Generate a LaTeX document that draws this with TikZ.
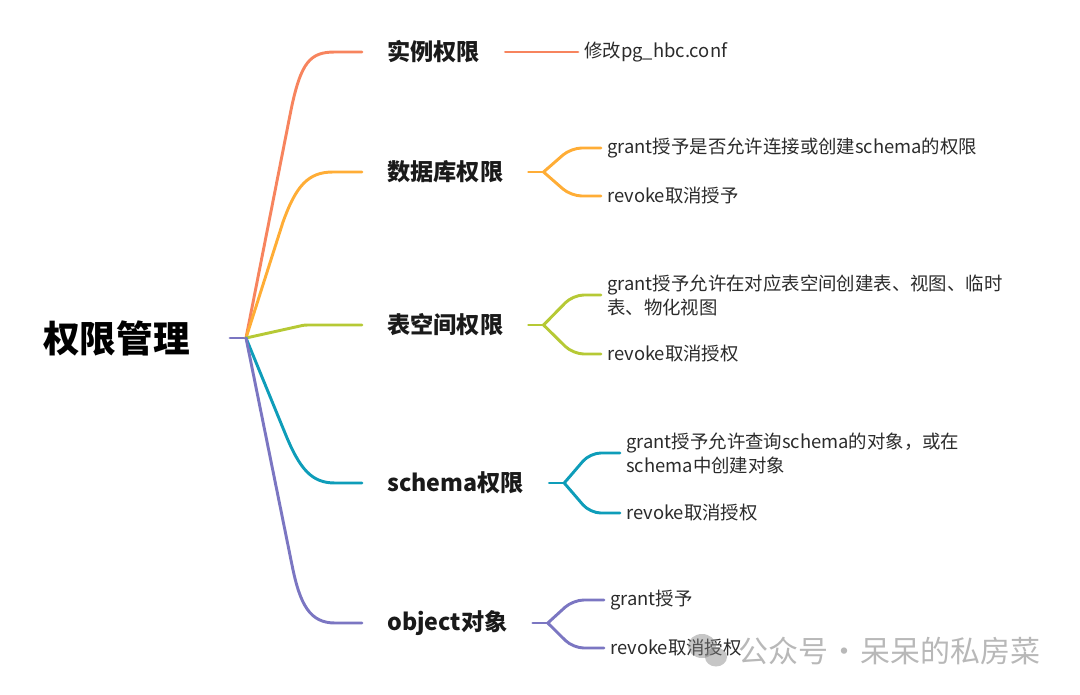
\documentclass[tikz,border=0pt]{standalone}
\usepackage{fontspec}
\setmainfont{Noto Sans CJK SC}
\usetikzlibrary{calc}
\definecolor{c1}{HTML}{F7845E}
\definecolor{c2}{HTML}{FFAD36}
\definecolor{c3}{HTML}{B6C935}
\definecolor{c4}{HTML}{0E9DB9}
\definecolor{c5}{HTML}{7B76C2}
\definecolor{txt}{HTML}{1A1A1A}
\definecolor{leaftxt}{HTML}{2B2B2B}
\definecolor{wmgray}{HTML}{B8B8B8}
\begin{document}
\begin{tikzpicture}[x=0.75pt,y=-0.75pt,
  br/.style={line width=2.2pt, line cap=round, line join=round},
  fork/.style={br, rounded corners=8pt},
  rootnode/.style={anchor=east, inner xsep=30pt, inner ysep=0pt, font=\bfseries\fontsize{27.5}{32}\selectfont, text=black},
  lone/.style={anchor=west, inner xsep=18.75pt, inner ysep=0pt, font=\bfseries\fontsize{17.4}{20}\selectfont, text=txt},
  leaf/.style={anchor=west, inner xsep=4.5pt, inner ysep=0pt, font=\fontsize{13.8}{18}\selectfont, text=leaftxt, align=left},
  wm/.style={anchor=west, inner sep=0pt, font=\fontsize{22.5}{26}\selectfont, text=wmgray}
]
\useasboundingbox (0,0) rectangle (1080,695);

% root
\node[rootnode] (root) at (230,338) {权限管理};
\coordinate (hub) at (246,338);
\draw[c5,br] (root.east) -- (hub);

% level 1
\node[lone] (a) at (362,52) {实例权限};
\node[lone] (b) at (362,172) {数据库权限};
\node[lone] (c) at (362,325) {表空间权限};
\node[lone] (d) at (362,483) {schema权限};
\node[lone] (e) at (362,623) {object对象};

\draw[c1,br] (hub) -- (291,110) .. controls (301,62) and (310,52) .. (335,52) -- (a.west);
\draw[c2,br] (hub) -- (283,222) .. controls (296,186) and (308,172) .. (333,172) -- (b.west);
\draw[c3,br] (hub) -- (300,326) .. controls (304,325) and (306,325) .. (310,325) -- (c.west);
\draw[c4,br] (hub) -- (285,433) .. controls (300,470) and (312,483) .. (335,483) -- (d.west);
\draw[c5,br] (hub) -- (292,565) .. controls (300,605) and (310,623) .. (335,623) -- (e.west);

% leaves
\node[leaf] (a1) at (578,52) {修改pg\_hbc.conf};
\draw[c1,br] (a.east) -- (a1.west);

\node[leaf] (b1) at (601,148) {grant授予是否允许连接或创建schema的权限};
\node[leaf] (b2) at (601,196) {revoke取消授予};
\coordinate (fb) at ($(b.east)+(15,0)$);
\draw[c2,br] (b.east) -- (fb);
\draw[c2,fork] (fb) -- ($(b1.west)+(-30,0)$) -- (b1.west);
\draw[c2,fork] (fb) -- ($(b2.west)+(-30,0)$) -- (b2.west);

\node[leaf] (c1n) at (601,295) {grant授予允许在对应表空间创建表、视图、临时\\表、物化视图};
\node[leaf] (c2n) at (601,354) {revoke取消授权};
\coordinate (fc) at ($(c.east)+(15,0)$);
\draw[c3,br] (c.east) -- (fc);
\draw[c3,fork] (fc) -- ($(c1n.west)+(-28,0)$) -- (c1n.west);
\draw[c3,fork] (fc) -- ($(c2n.west)+(-28,0)$) -- (c2n.west);

\node[leaf] (d1) at (620,453) {grant授予允许查询schema的对象，或在\\schema中创建对象};
\node[leaf] (d2) at (620,513) {revoke取消授权};
\coordinate (fd) at ($(d.east)+(15,0)$);
\draw[c4,br] (d.east) -- (fd);
\draw[c4,fork] (fd) -- ($(d1.west)+(-30,0)$) -- (d1.west);
\draw[c4,fork] (fd) -- ($(d2.west)+(-30,0)$) -- (d2.west);

\node[leaf] (e1) at (604,600) {grant授予};
\node[leaf] (e2) at (604,648) {revoke取消授权};
\coordinate (fe) at ($(e.east)+(15,0)$);
\draw[c5,br] (e.east) -- (fe);
\draw[c5,fork] (fe) -- ($(e1.west)+(-31,0)$) -- (e1.west);
\draw[c5,fork] (fe) -- ($(e2.west)+(-31,0)$) -- (e2.west);

% watermark
\fill[gray, opacity=0.45] (702,646) ellipse [x radius=14, y radius=12];
\fill[gray, opacity=0.45] (716,657) ellipse [x radius=11, y radius=9.5];
\node[wm] (wmark) at (738,651) {公众号\hspace{1pt}·\hspace{1pt}呆呆的私房菜};
\end{tikzpicture}
\end{document}
